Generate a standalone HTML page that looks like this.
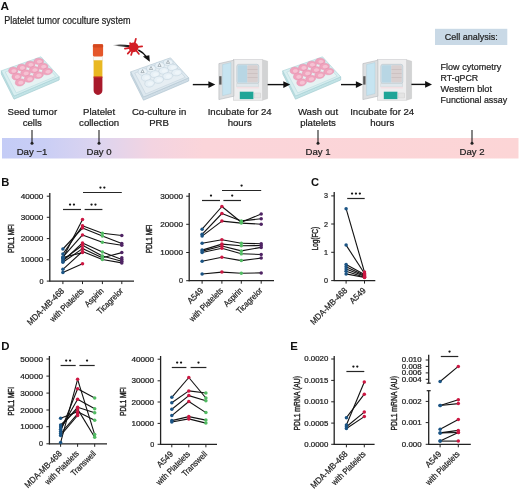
<!DOCTYPE html>
<html><head><meta charset="utf-8"><style>
html,body{margin:0;padding:0;background:#fff;}
svg{display:block;font-family:"Liberation Sans", sans-serif;will-change:transform;}
</style></head><body>
<svg width="520" height="489" viewBox="0 0 520 489">
<rect width="520" height="489" fill="#fff"/>
<polygon points="1.30,70.80 14.00,96.00 59.20,76.80 59.20,80.00 14.00,99.20 1.30,74.00" fill="#c2e3e6" stroke="#9cc8cd" stroke-width="0.6"/>
<polygon points="1.30,70.80 41.00,56.80 59.20,76.80 14.00,96.00" fill="#d8eef0" stroke="#a7d1d6" stroke-width="0.6"/>
<polygon points="5.26,72.06 40.63,59.32 55.69,76.34 16.25,92.92" fill="#e6f2f3" stroke="#a7d1d6" stroke-width="0.4"/>
<polygon points="17.44,69.10 17.85,70.15 17.79,71.26 17.27,72.31 16.34,73.22 15.10,73.87 13.67,74.21 12.20,74.20 10.84,73.83 9.72,73.14 8.95,72.19 8.59,71.10 8.68,69.97 9.20,68.91 10.10,68.03 11.30,67.42 12.68,67.12 14.12,67.16 15.48,67.53 16.63,68.20" fill="#f0a3bd" stroke="#e08aa8" stroke-width="0.4"/>
<polygon points="16.11,70.16 16.32,70.71 16.28,71.29 16.00,71.84 15.52,72.31 14.87,72.65 14.13,72.82 13.36,72.82 12.65,72.63 12.06,72.27 11.65,71.79 11.46,71.23 11.51,70.64 11.78,70.10 12.26,69.63 12.89,69.31 13.63,69.14 14.38,69.16 15.10,69.34 15.69,69.69" fill="#f5c2d3" stroke="none" stroke-width="0.5"/>
<polygon points="25.94,66.01 26.39,67.01 26.38,68.08 25.89,69.10 24.99,69.98 23.75,70.63 22.31,70.98 20.82,70.99 19.43,70.65 18.27,70.00 17.44,69.10 17.04,68.05 17.08,66.96 17.57,65.94 18.45,65.08 19.64,64.47 21.03,64.17 22.49,64.19 23.89,64.53 25.08,65.15" fill="#f0a3bd" stroke="#e08aa8" stroke-width="0.4"/>
<polygon points="24.64,67.05 24.86,67.57 24.85,68.13 24.59,68.66 24.12,69.12 23.47,69.45 22.73,69.63 21.95,69.64 21.22,69.47 20.61,69.13 20.17,68.68 19.96,68.14 19.98,67.58 20.24,67.04 20.70,66.59 21.33,66.27 22.07,66.10 22.84,66.10 23.57,66.27 24.19,66.60" fill="#f5c2d3" stroke="none" stroke-width="0.5"/>
<polygon points="34.44,62.91 34.94,63.87 34.97,64.90 34.52,65.89 33.63,66.75 32.40,67.39 30.96,67.75 29.45,67.78 28.02,67.47 26.81,66.86 25.94,66.01 25.49,65.00 25.49,63.95 25.94,62.96 26.80,62.13 27.98,61.53 29.38,61.22 30.86,61.21 32.29,61.52 33.53,62.11" fill="#f0a3bd" stroke="#e08aa8" stroke-width="0.4"/>
<polygon points="33.16,63.93 33.41,64.43 33.42,64.97 33.18,65.48 32.72,65.93 32.08,66.26 31.32,66.45 30.54,66.46 29.79,66.31 29.15,66.00 28.69,65.56 28.45,65.05 28.45,64.51 28.69,63.99 29.15,63.55 29.78,63.23 30.52,63.06 31.30,63.05 32.05,63.20 32.69,63.51" fill="#f5c2d3" stroke="none" stroke-width="0.5"/>
<polygon points="42.94,59.82 43.49,60.74 43.56,61.72 43.14,62.68 42.28,63.52 41.06,64.15 39.61,64.51 38.07,64.56 36.61,64.29 35.36,63.72 34.44,62.91 33.94,61.96 33.90,60.95 34.32,59.99 35.15,59.18 36.32,58.58 37.73,58.26 39.24,58.24 40.70,58.51 41.98,59.06" fill="#f0a3bd" stroke="#e08aa8" stroke-width="0.4"/>
<polygon points="41.68,60.82 41.96,61.29 41.99,61.81 41.77,62.31 41.32,62.74 40.68,63.07 39.92,63.26 39.12,63.29 38.36,63.15 37.70,62.86 37.22,62.45 36.95,61.96 36.93,61.44 37.15,60.94 37.59,60.51 38.22,60.19 38.96,60.02 39.75,60.00 40.52,60.13 41.18,60.42" fill="#f5c2d3" stroke="none" stroke-width="0.5"/>
<polygon points="21.03,74.82 21.43,75.88 21.35,77.00 20.80,78.09 19.83,79.03 18.54,79.73 17.07,80.11 15.56,80.13 14.17,79.79 13.03,79.12 12.25,78.18 11.90,77.08 12.01,75.93 12.56,74.84 13.50,73.93 14.74,73.27 16.17,72.94 17.65,72.94 19.04,73.28 20.21,73.93" fill="#f0a3bd" stroke="#e08aa8" stroke-width="0.4"/>
<polygon points="19.65,75.93 19.85,76.49 19.80,77.07 19.51,77.64 19.00,78.13 18.33,78.49 17.57,78.69 16.78,78.70 16.05,78.53 15.45,78.18 15.04,77.70 14.85,77.14 14.91,76.54 15.20,75.98 15.70,75.50 16.36,75.15 17.11,74.96 17.89,74.96 18.62,75.13 19.23,75.47" fill="#f5c2d3" stroke="none" stroke-width="0.5"/>
<polygon points="29.82,71.46 30.26,72.47 30.22,73.56 29.71,74.61 28.76,75.53 27.48,76.22 26.00,76.61 24.47,76.65 23.04,76.35 21.86,75.71 21.03,74.82 20.64,73.77 20.70,72.66 21.22,71.60 22.14,70.71 23.37,70.06 24.80,69.72 26.31,69.70 27.73,70.01 28.94,70.61" fill="#f0a3bd" stroke="#e08aa8" stroke-width="0.4"/>
<polygon points="28.46,72.55 28.68,73.08 28.65,73.65 28.38,74.19 27.89,74.67 27.22,75.03 26.45,75.23 25.65,75.26 24.90,75.10 24.28,74.78 23.84,74.32 23.63,73.78 23.66,73.21 23.94,72.66 24.43,72.19 25.08,71.84 25.84,71.65 26.63,71.64 27.38,71.79 28.01,72.11" fill="#f5c2d3" stroke="none" stroke-width="0.5"/>
<polygon points="38.60,68.10 39.09,69.07 39.10,70.11 38.61,71.13 37.69,72.03 36.42,72.71 34.93,73.11 33.38,73.18 31.92,72.90 30.69,72.31 29.82,71.46 29.37,70.45 29.39,69.38 29.87,68.36 30.77,67.49 32.00,66.85 33.44,66.49 34.96,66.46 36.42,66.73 37.68,67.30" fill="#f0a3bd" stroke="#e08aa8" stroke-width="0.4"/>
<polygon points="37.26,69.17 37.51,69.67 37.51,70.22 37.25,70.75 36.77,71.22 36.11,71.57 35.33,71.78 34.52,71.81 33.75,71.67 33.11,71.37 32.65,70.94 32.41,70.42 32.42,69.87 32.68,69.34 33.15,68.88 33.80,68.54 34.57,68.34 35.37,68.32 36.13,68.46 36.79,68.75" fill="#f5c2d3" stroke="none" stroke-width="0.5"/>
<polygon points="47.38,64.74 47.92,65.66 47.97,66.66 47.52,67.65 46.62,68.53 45.36,69.20 43.86,69.61 42.29,69.70 40.79,69.45 39.52,68.90 38.60,68.10 38.10,67.14 38.08,66.11 38.53,65.12 39.40,64.27 40.62,63.64 42.07,63.27 43.62,63.22 45.11,63.46 46.41,63.98" fill="#f0a3bd" stroke="#e08aa8" stroke-width="0.4"/>
<polygon points="46.06,65.79 46.34,66.27 46.36,66.79 46.12,67.31 45.65,67.76 44.99,68.11 44.21,68.32 43.39,68.37 42.61,68.24 41.94,67.97 41.45,67.56 41.19,67.06 41.18,66.53 41.42,66.02 41.88,65.57 42.53,65.23 43.29,65.03 44.11,65.00 44.89,65.12 45.57,65.39" fill="#f5c2d3" stroke="none" stroke-width="0.5"/>
<polygon points="24.62,80.54 25.01,81.61 24.91,82.75 24.33,83.87 23.32,84.84 21.99,85.58 20.48,86.01 18.93,86.07 17.51,85.76 16.35,85.10 15.56,84.17 15.22,83.06 15.35,81.89 15.93,80.78 16.91,79.83 18.19,79.13 19.66,78.75 21.18,78.72 22.61,79.03 23.79,79.66" fill="#f0a3bd" stroke="#e08aa8" stroke-width="0.4"/>
<polygon points="23.19,81.71 23.38,82.26 23.32,82.86 23.02,83.44 22.49,83.95 21.80,84.33 21.01,84.55 20.20,84.58 19.45,84.43 18.84,84.09 18.43,83.62 18.24,83.05 18.31,82.44 18.62,81.86 19.14,81.36 19.82,80.99 20.60,80.78 21.40,80.76 22.14,80.92 22.76,81.24" fill="#f5c2d3" stroke="none" stroke-width="0.5"/>
<polygon points="33.69,76.92 34.13,77.93 34.07,79.04 33.52,80.12 32.54,81.08 31.21,81.81 29.69,82.24 28.12,82.32 26.66,82.04 25.46,81.43 24.62,80.54 24.23,79.48 24.32,78.35 24.87,77.27 25.82,76.34 27.10,75.65 28.58,75.26 30.12,75.21 31.58,75.49 32.81,76.07" fill="#f0a3bd" stroke="#e08aa8" stroke-width="0.4"/>
<polygon points="32.27,78.06 32.49,78.59 32.46,79.16 32.17,79.73 31.65,80.23 30.96,80.60 30.17,80.83 29.35,80.87 28.59,80.73 27.96,80.42 27.51,79.97 27.31,79.42 27.35,78.84 27.64,78.28 28.15,77.79 28.82,77.42 29.61,77.21 30.42,77.17 31.18,77.31 31.82,77.62" fill="#f5c2d3" stroke="none" stroke-width="0.5"/>
<polygon points="42.75,73.29 43.24,74.26 43.23,75.32 42.71,76.37 41.75,77.31 40.43,78.03 38.90,78.47 37.31,78.57 35.82,78.33 34.57,77.75 33.69,76.92 33.25,75.90 33.29,74.81 33.81,73.76 34.74,72.85 36.01,72.17 37.50,71.77 39.06,71.70 40.55,71.95 41.83,72.49" fill="#f0a3bd" stroke="#e08aa8" stroke-width="0.4"/>
<polygon points="41.36,74.41 41.61,74.92 41.59,75.47 41.32,76.02 40.82,76.50 40.13,76.88 39.33,77.11 38.50,77.16 37.72,77.04 37.07,76.75 36.60,76.32 36.37,75.80 36.39,75.23 36.66,74.69 37.16,74.21 37.83,73.85 38.62,73.63 39.44,73.58 40.22,73.71 40.88,73.99" fill="#f5c2d3" stroke="none" stroke-width="0.5"/>
<polygon points="51.82,69.66 52.35,70.59 52.38,71.61 51.90,72.62 50.96,73.54 49.65,74.26 48.11,74.70 46.50,74.83 44.97,74.61 43.68,74.08 42.75,73.29 42.27,72.32 42.26,71.27 42.74,70.25 43.66,69.36 44.92,68.69 46.41,68.29 48.00,68.19 49.52,68.40 50.84,68.91" fill="#f0a3bd" stroke="#e08aa8" stroke-width="0.4"/>
<polygon points="50.45,70.76 50.72,71.24 50.73,71.78 50.48,72.31 49.98,72.78 49.30,73.15 48.50,73.38 47.66,73.45 46.86,73.34 46.18,73.07 45.69,72.67 45.43,72.17 45.43,71.63 45.68,71.10 46.17,70.63 46.84,70.27 47.63,70.05 48.46,69.99 49.26,70.10 49.95,70.36" fill="#f5c2d3" stroke="none" stroke-width="0.5"/>
<rect x="93.6" y="55" width="8.8" height="6" fill="#fbfbf6" stroke="#d7d2c8" stroke-width="0.4"/>
<rect x="93.6" y="60.3" width="8.8" height="17" fill="#e9b822"/>
<path d="M93.6,77 H102.4 V90.5 A4.4,4.4 0 0 1 93.6,90.5 Z" fill="#a8192b"/>
<rect x="93.6" y="76.4" width="8.8" height="1.2" fill="#c9362a"/>
<rect x="92.9" y="44.2" width="10.2" height="12.2" rx="1.3" fill="#e5572a"/>
<rect x="92.9" y="44.2" width="10.2" height="3.2" rx="1.2" fill="#d4481f"/>
<defs><linearGradient id="tl" x1="0" x2="1"><stop offset="0" stop-color="#222" stop-opacity="0"/><stop offset="0.35" stop-color="#222" stop-opacity="0.8"/><stop offset="1" stop-color="#111"/></linearGradient></defs>
<path d="M112.5,44.9 Q122,44.2 130,45.2 L130,47.6 Q122,46.3 112.5,45.5 Z" fill="url(#tl)"/>
<line x1="133.6" y1="47.3" x2="135.88" y2="38.80" stroke="#d31d25" stroke-width="1.7" stroke-linecap="round"/>
<line x1="133.6" y1="47.3" x2="142.15" y2="46.40" stroke="#d31d25" stroke-width="1.7" stroke-linecap="round"/>
<line x1="133.6" y1="47.3" x2="138.95" y2="53.91" stroke="#d31d25" stroke-width="1.7" stroke-linecap="round"/>
<line x1="133.6" y1="47.3" x2="131.13" y2="54.91" stroke="#d31d25" stroke-width="1.7" stroke-linecap="round"/>
<line x1="133.6" y1="47.3" x2="127.73" y2="53.59" stroke="#d31d25" stroke-width="1.7" stroke-linecap="round"/>
<line x1="133.6" y1="47.3" x2="124.91" y2="48.68" stroke="#d31d25" stroke-width="1.7" stroke-linecap="round"/>
<line x1="133.6" y1="47.3" x2="130.06" y2="43.09" stroke="#d31d25" stroke-width="1.7" stroke-linecap="round"/>
<circle cx="133.6" cy="47.3" r="4.9" fill="#d31d25"/>
<path d="M138.3,50.0 Q143.5,52.5 146.5,57" fill="none" stroke="#111" stroke-width="1.4"/>
<path d="M149.8,61.8 L142.9,56.6 L149.3,55.2 Z" fill="#111"/>
<polygon points="130.80,71.80 143.50,97.00 188.70,77.80 188.70,81.00 143.50,100.20 130.80,75.00" fill="#cfdde6" stroke="#aabfcc" stroke-width="0.6"/>
<polygon points="130.80,71.80 170.50,57.80 188.70,77.80 143.50,97.00" fill="#dde8ef" stroke="#b3c6d2" stroke-width="0.6"/>
<polygon points="134.76,73.06 170.13,60.32 185.19,77.34 145.75,93.92" fill="#e6eef3" stroke="#b3c6d2" stroke-width="0.4"/>
<polygon points="146.94,70.10 147.35,71.15 147.29,72.26 146.77,73.31 145.84,74.22 144.60,74.87 143.17,75.21 141.70,75.20 140.34,74.83 139.22,74.14 138.45,73.19 138.09,72.10 138.18,70.97 138.70,69.91 139.60,69.03 140.80,68.42 142.18,68.12 143.62,68.16 144.98,68.53 146.13,69.20" fill="#e7f0f6" stroke="#b3c7d4" stroke-width="0.4"/>
<polygon points="145.61,71.16 145.82,71.71 145.78,72.29 145.50,72.84 145.02,73.31 144.37,73.65 143.63,73.82 142.86,73.82 142.15,73.63 141.56,73.27 141.15,72.79 140.96,72.23 141.01,71.64 141.28,71.10 141.76,70.63 142.39,70.31 143.13,70.14 143.88,70.16 144.60,70.34 145.19,70.69" fill="#eef5f9" stroke="none" stroke-width="0.5"/>
<polygon points="155.44,67.01 155.89,68.01 155.88,69.08 155.39,70.10 154.49,70.98 153.25,71.63 151.81,71.98 150.32,71.99 148.93,71.65 147.77,71.00 146.94,70.10 146.54,69.05 146.58,67.96 147.07,66.94 147.95,66.08 149.14,65.47 150.53,65.17 151.99,65.19 153.39,65.53 154.58,66.15" fill="#e7f0f6" stroke="#b3c7d4" stroke-width="0.4"/>
<polygon points="154.14,68.05 154.36,68.57 154.35,69.13 154.09,69.66 153.62,70.12 152.97,70.45 152.23,70.63 151.45,70.64 150.72,70.47 150.11,70.13 149.67,69.68 149.46,69.14 149.48,68.58 149.74,68.04 150.20,67.59 150.83,67.27 151.57,67.10 152.34,67.10 153.07,67.27 153.69,67.60" fill="#eef5f9" stroke="none" stroke-width="0.5"/>
<polygon points="163.94,63.91 164.44,64.87 164.47,65.90 164.02,66.89 163.13,67.75 161.90,68.39 160.46,68.75 158.95,68.78 157.52,68.47 156.31,67.86 155.44,67.01 154.99,66.00 154.99,64.95 155.44,63.96 156.30,63.13 157.48,62.53 158.88,62.22 160.36,62.21 161.79,62.52 163.03,63.11" fill="#e7f0f6" stroke="#b3c7d4" stroke-width="0.4"/>
<polygon points="162.66,64.93 162.91,65.43 162.92,65.97 162.68,66.48 162.22,66.93 161.58,67.26 160.82,67.45 160.04,67.46 159.29,67.31 158.65,67.00 158.19,66.56 157.95,66.05 157.95,65.51 158.19,64.99 158.65,64.55 159.28,64.23 160.02,64.06 160.80,64.05 161.55,64.20 162.19,64.51" fill="#eef5f9" stroke="none" stroke-width="0.5"/>
<polygon points="172.44,60.82 172.99,61.74 173.06,62.72 172.64,63.68 171.78,64.52 170.56,65.15 169.11,65.51 167.57,65.56 166.11,65.29 164.86,64.72 163.94,63.91 163.44,62.96 163.40,61.95 163.82,60.99 164.65,60.18 165.82,59.58 167.23,59.26 168.74,59.24 170.20,59.51 171.48,60.06" fill="#e7f0f6" stroke="#b3c7d4" stroke-width="0.4"/>
<polygon points="171.18,61.82 171.46,62.29 171.49,62.81 171.27,63.31 170.82,63.74 170.18,64.07 169.42,64.26 168.62,64.29 167.86,64.15 167.20,63.86 166.72,63.45 166.45,62.96 166.43,62.44 166.65,61.94 167.09,61.51 167.72,61.19 168.46,61.02 169.25,61.00 170.02,61.13 170.68,61.42" fill="#eef5f9" stroke="none" stroke-width="0.5"/>
<polygon points="150.53,75.82 150.93,76.88 150.85,78.00 150.30,79.09 149.33,80.03 148.04,80.73 146.57,81.11 145.06,81.13 143.67,80.79 142.53,80.12 141.75,79.18 141.40,78.08 141.51,76.93 142.06,75.84 143.00,74.93 144.24,74.27 145.67,73.94 147.15,73.94 148.54,74.28 149.71,74.93" fill="#e7f0f6" stroke="#b3c7d4" stroke-width="0.4"/>
<polygon points="149.15,76.93 149.35,77.49 149.30,78.07 149.01,78.64 148.50,79.13 147.83,79.49 147.07,79.69 146.28,79.70 145.55,79.53 144.95,79.18 144.54,78.70 144.35,78.14 144.41,77.54 144.70,76.98 145.20,76.50 145.86,76.15 146.61,75.96 147.39,75.96 148.12,76.13 148.73,76.47" fill="#eef5f9" stroke="none" stroke-width="0.5"/>
<polygon points="159.32,72.46 159.76,73.47 159.72,74.56 159.21,75.61 158.26,76.53 156.98,77.22 155.50,77.61 153.97,77.65 152.54,77.35 151.36,76.71 150.53,75.82 150.14,74.77 150.20,73.66 150.72,72.60 151.64,71.71 152.87,71.06 154.30,70.72 155.81,70.70 157.23,71.01 158.44,71.61" fill="#e7f0f6" stroke="#b3c7d4" stroke-width="0.4"/>
<polygon points="157.96,73.55 158.18,74.08 158.15,74.65 157.88,75.19 157.39,75.67 156.72,76.03 155.95,76.23 155.15,76.26 154.40,76.10 153.78,75.78 153.34,75.32 153.13,74.78 153.16,74.21 153.44,73.66 153.93,73.19 154.58,72.84 155.34,72.65 156.13,72.64 156.88,72.79 157.51,73.11" fill="#eef5f9" stroke="none" stroke-width="0.5"/>
<polygon points="168.10,69.10 168.59,70.07 168.60,71.11 168.11,72.13 167.19,73.03 165.92,73.71 164.43,74.11 162.88,74.18 161.42,73.90 160.19,73.31 159.32,72.46 158.87,71.45 158.89,70.38 159.37,69.36 160.27,68.49 161.50,67.85 162.94,67.49 164.46,67.46 165.92,67.73 167.18,68.30" fill="#e7f0f6" stroke="#b3c7d4" stroke-width="0.4"/>
<polygon points="166.76,70.17 167.01,70.67 167.01,71.22 166.75,71.75 166.27,72.22 165.61,72.57 164.83,72.78 164.02,72.81 163.25,72.67 162.61,72.37 162.15,71.94 161.91,71.42 161.92,70.87 162.18,70.34 162.65,69.88 163.30,69.54 164.07,69.34 164.87,69.32 165.63,69.46 166.29,69.75" fill="#eef5f9" stroke="none" stroke-width="0.5"/>
<polygon points="176.88,65.74 177.42,66.66 177.47,67.66 177.02,68.65 176.12,69.53 174.86,70.20 173.36,70.61 171.79,70.70 170.29,70.45 169.02,69.90 168.10,69.10 167.60,68.14 167.58,67.11 168.03,66.12 168.90,65.27 170.12,64.64 171.57,64.27 173.12,64.22 174.61,64.46 175.91,64.98" fill="#e7f0f6" stroke="#b3c7d4" stroke-width="0.4"/>
<polygon points="175.56,66.79 175.84,67.27 175.86,67.79 175.62,68.31 175.15,68.76 174.49,69.11 173.71,69.32 172.89,69.37 172.11,69.24 171.44,68.97 170.95,68.56 170.69,68.06 170.68,67.53 170.92,67.02 171.38,66.57 172.03,66.23 172.79,66.03 173.61,66.00 174.39,66.12 175.07,66.39" fill="#eef5f9" stroke="none" stroke-width="0.5"/>
<polygon points="154.12,81.54 154.51,82.61 154.41,83.75 153.83,84.87 152.82,85.84 151.49,86.58 149.98,87.01 148.43,87.07 147.01,86.76 145.85,86.10 145.06,85.17 144.72,84.06 144.85,82.89 145.43,81.78 146.41,80.83 147.69,80.13 149.16,79.75 150.68,79.72 152.11,80.03 153.29,80.66" fill="#e7f0f6" stroke="#b3c7d4" stroke-width="0.4"/>
<polygon points="152.69,82.71 152.88,83.26 152.82,83.86 152.52,84.44 151.99,84.95 151.30,85.33 150.51,85.55 149.70,85.58 148.95,85.43 148.34,85.09 147.93,84.62 147.74,84.05 147.81,83.44 148.12,82.86 148.64,82.36 149.32,81.99 150.10,81.78 150.90,81.76 151.64,81.92 152.26,82.24" fill="#eef5f9" stroke="none" stroke-width="0.5"/>
<polygon points="163.19,77.92 163.63,78.93 163.57,80.04 163.02,81.12 162.04,82.08 160.71,82.81 159.19,83.24 157.62,83.32 156.16,83.04 154.96,82.43 154.12,81.54 153.73,80.48 153.82,79.35 154.37,78.27 155.32,77.34 156.60,76.65 158.08,76.26 159.62,76.21 161.08,76.49 162.31,77.07" fill="#e7f0f6" stroke="#b3c7d4" stroke-width="0.4"/>
<polygon points="161.77,79.06 161.99,79.59 161.96,80.16 161.67,80.73 161.15,81.23 160.46,81.60 159.67,81.83 158.85,81.87 158.09,81.73 157.46,81.42 157.01,80.97 156.81,80.42 156.85,79.84 157.14,79.28 157.65,78.79 158.32,78.42 159.11,78.21 159.92,78.17 160.68,78.31 161.32,78.62" fill="#eef5f9" stroke="none" stroke-width="0.5"/>
<polygon points="172.25,74.29 172.74,75.26 172.73,76.32 172.21,77.37 171.25,78.31 169.93,79.03 168.40,79.47 166.81,79.57 165.32,79.33 164.07,78.75 163.19,77.92 162.75,76.90 162.79,75.81 163.31,74.76 164.24,73.85 165.51,73.17 167.00,72.77 168.56,72.70 170.05,72.95 171.33,73.49" fill="#e7f0f6" stroke="#b3c7d4" stroke-width="0.4"/>
<polygon points="170.86,75.41 171.11,75.92 171.09,76.47 170.82,77.02 170.32,77.50 169.63,77.88 168.83,78.11 168.00,78.16 167.22,78.04 166.57,77.75 166.10,77.32 165.87,76.80 165.89,76.23 166.16,75.69 166.66,75.21 167.33,74.85 168.12,74.63 168.94,74.58 169.72,74.71 170.38,74.99" fill="#eef5f9" stroke="none" stroke-width="0.5"/>
<polygon points="181.32,70.66 181.85,71.59 181.88,72.61 181.40,73.62 180.46,74.54 179.15,75.26 177.61,75.70 176.00,75.83 174.47,75.61 173.18,75.08 172.25,74.29 171.77,73.32 171.76,72.27 172.24,71.25 173.16,70.36 174.42,69.69 175.91,69.29 177.50,69.19 179.02,69.40 180.34,69.91" fill="#e7f0f6" stroke="#b3c7d4" stroke-width="0.4"/>
<polygon points="179.95,71.76 180.22,72.24 180.23,72.78 179.98,73.31 179.48,73.78 178.80,74.15 178.00,74.38 177.16,74.45 176.36,74.34 175.68,74.07 175.19,73.67 174.93,73.17 174.93,72.63 175.18,72.10 175.67,71.63 176.34,71.27 177.13,71.05 177.96,70.99 178.76,71.10 179.45,71.36" fill="#eef5f9" stroke="none" stroke-width="0.5"/>
<path d="M140.95,72.61 L142.55,69.61 L144.15,72.61 Z" fill="#f4f8fa" stroke="#6b7a85" stroke-width="0.5"/>
<path d="M149.44,69.53 L151.04,66.53 L152.64,69.53 Z" fill="#f4f8fa" stroke="#6b7a85" stroke-width="0.5"/>
<path d="M157.93,66.44 L159.53,63.44 L161.13,66.44 Z" fill="#f4f8fa" stroke="#6b7a85" stroke-width="0.5"/>
<path d="M166.42,63.36 L168.02,60.36 L169.62,63.36 Z" fill="#f4f8fa" stroke="#6b7a85" stroke-width="0.5"/>
<g transform="translate(0,0)">
<polygon points="262.5,59.8 267.6,61.2 267.6,98.6 262.5,100.2" fill="#d2d3d4" stroke="#bdbdbd" stroke-width="0.4"/>
<rect x="233.6" y="59.6" width="29" height="40.6" fill="#eeeeef" stroke="#cbcbcc" stroke-width="0.6"/>
<rect x="236.8" y="64.3" width="22" height="19.4" rx="2" fill="#d3e1e8" stroke="#b7c3c9" stroke-width="0.6"/>
<rect x="237.8" y="65.2" width="9.5" height="17.4" rx="1.2" fill="#b8d6e4"/>
<rect x="247.3" y="65.2" width="10.5" height="17.4" rx="1.2" fill="#d9d0d0"/>
<line x1="247.5" y1="69.5" x2="257.6" y2="69.5" stroke="#c4b8b8" stroke-width="0.6"/>
<line x1="247.5" y1="73.5" x2="257.6" y2="73.5" stroke="#c4b8b8" stroke-width="0.6"/>
<line x1="247.5" y1="77.5" x2="257.6" y2="77.5" stroke="#c4b8b8" stroke-width="0.6"/>
<rect x="236.8" y="83.7" width="22" height="3.2" fill="#dfe7ec" stroke="#c8cfd3" stroke-width="0.4"/>
<rect x="236.8" y="86.9" width="22" height="1.6" fill="#f3dfe3"/>
<rect x="239.8" y="91.7" width="13.6" height="7.4" fill="#1fa597"/>
<rect x="254.2" y="93" width="6.5" height="5" fill="#e4e4e4" stroke="#cacaca" stroke-width="0.4"/>
<polygon points="218.9,63.6 233.9,60.2 233.9,96.2 218.9,99.6" fill="#dcdee0" stroke="#b4b7ba" stroke-width="0.6"/>
<polygon points="222.6,64.6 231,62.6 231,93.6 222.6,95.6" fill="#c6e4f1" stroke="#a9c9d6" stroke-width="0.4"/>
<rect x="219.2" y="76.2" width="2.3" height="8.4" fill="#5a5a5a"/>
</g>
<polygon points="282.80,70.80 295.50,96.00 340.70,76.80 340.70,80.00 295.50,99.20 282.80,74.00" fill="#c2e3e6" stroke="#9cc8cd" stroke-width="0.6"/>
<polygon points="282.80,70.80 322.50,56.80 340.70,76.80 295.50,96.00" fill="#d8eef0" stroke="#a7d1d6" stroke-width="0.6"/>
<polygon points="286.76,72.06 322.13,59.32 337.19,76.34 297.75,92.92" fill="#e6f2f3" stroke="#a7d1d6" stroke-width="0.4"/>
<polygon points="298.94,69.10 299.35,70.15 299.29,71.26 298.77,72.31 297.84,73.22 296.60,73.87 295.17,74.21 293.70,74.20 292.34,73.83 291.22,73.14 290.45,72.19 290.09,71.10 290.18,69.97 290.70,68.91 291.60,68.03 292.80,67.42 294.18,67.12 295.62,67.16 296.98,67.53 298.13,68.20" fill="#f0a3bd" stroke="#e08aa8" stroke-width="0.4"/>
<polygon points="297.61,70.16 297.82,70.71 297.78,71.29 297.50,71.84 297.02,72.31 296.37,72.65 295.63,72.82 294.86,72.82 294.15,72.63 293.56,72.27 293.15,71.79 292.96,71.23 293.01,70.64 293.28,70.10 293.76,69.63 294.39,69.31 295.13,69.14 295.88,69.16 296.60,69.34 297.19,69.69" fill="#f5c2d3" stroke="none" stroke-width="0.5"/>
<polygon points="307.44,66.01 307.89,67.01 307.88,68.08 307.39,69.10 306.49,69.98 305.25,70.63 303.81,70.98 302.32,70.99 300.93,70.65 299.77,70.00 298.94,69.10 298.54,68.05 298.58,66.96 299.07,65.94 299.95,65.08 301.14,64.47 302.53,64.17 303.99,64.19 305.39,64.53 306.58,65.15" fill="#f0a3bd" stroke="#e08aa8" stroke-width="0.4"/>
<polygon points="306.14,67.05 306.36,67.57 306.35,68.13 306.09,68.66 305.62,69.12 304.97,69.45 304.23,69.63 303.45,69.64 302.72,69.47 302.11,69.13 301.67,68.68 301.46,68.14 301.48,67.58 301.74,67.04 302.20,66.59 302.83,66.27 303.57,66.10 304.34,66.10 305.07,66.27 305.69,66.60" fill="#f5c2d3" stroke="none" stroke-width="0.5"/>
<polygon points="315.94,62.91 316.44,63.87 316.47,64.90 316.02,65.89 315.13,66.75 313.90,67.39 312.46,67.75 310.95,67.78 309.52,67.47 308.31,66.86 307.44,66.01 306.99,65.00 306.99,63.95 307.44,62.96 308.30,62.13 309.48,61.53 310.88,61.22 312.36,61.21 313.79,61.52 315.03,62.11" fill="#f0a3bd" stroke="#e08aa8" stroke-width="0.4"/>
<polygon points="314.66,63.93 314.91,64.43 314.92,64.97 314.68,65.48 314.22,65.93 313.58,66.26 312.82,66.45 312.04,66.46 311.29,66.31 310.65,66.00 310.19,65.56 309.95,65.05 309.95,64.51 310.19,63.99 310.65,63.55 311.28,63.23 312.02,63.06 312.80,63.05 313.55,63.20 314.19,63.51" fill="#f5c2d3" stroke="none" stroke-width="0.5"/>
<polygon points="324.44,59.82 324.99,60.74 325.06,61.72 324.64,62.68 323.78,63.52 322.56,64.15 321.11,64.51 319.57,64.56 318.11,64.29 316.86,63.72 315.94,62.91 315.44,61.96 315.40,60.95 315.82,59.99 316.65,59.18 317.82,58.58 319.23,58.26 320.74,58.24 322.20,58.51 323.48,59.06" fill="#f0a3bd" stroke="#e08aa8" stroke-width="0.4"/>
<polygon points="323.18,60.82 323.46,61.29 323.49,61.81 323.27,62.31 322.82,62.74 322.18,63.07 321.42,63.26 320.62,63.29 319.86,63.15 319.20,62.86 318.72,62.45 318.45,61.96 318.43,61.44 318.65,60.94 319.09,60.51 319.72,60.19 320.46,60.02 321.25,60.00 322.02,60.13 322.68,60.42" fill="#f5c2d3" stroke="none" stroke-width="0.5"/>
<polygon points="302.53,74.82 302.93,75.88 302.85,77.00 302.30,78.09 301.33,79.03 300.04,79.73 298.57,80.11 297.06,80.13 295.67,79.79 294.53,79.12 293.75,78.18 293.40,77.08 293.51,75.93 294.06,74.84 295.00,73.93 296.24,73.27 297.67,72.94 299.15,72.94 300.54,73.28 301.71,73.93" fill="#f0a3bd" stroke="#e08aa8" stroke-width="0.4"/>
<polygon points="301.15,75.93 301.35,76.49 301.30,77.07 301.01,77.64 300.50,78.13 299.83,78.49 299.07,78.69 298.28,78.70 297.55,78.53 296.95,78.18 296.54,77.70 296.35,77.14 296.41,76.54 296.70,75.98 297.20,75.50 297.86,75.15 298.61,74.96 299.39,74.96 300.12,75.13 300.73,75.47" fill="#f5c2d3" stroke="none" stroke-width="0.5"/>
<polygon points="311.32,71.46 311.76,72.47 311.72,73.56 311.21,74.61 310.26,75.53 308.98,76.22 307.50,76.61 305.97,76.65 304.54,76.35 303.36,75.71 302.53,74.82 302.14,73.77 302.20,72.66 302.72,71.60 303.64,70.71 304.87,70.06 306.30,69.72 307.81,69.70 309.23,70.01 310.44,70.61" fill="#f0a3bd" stroke="#e08aa8" stroke-width="0.4"/>
<polygon points="309.96,72.55 310.18,73.08 310.15,73.65 309.88,74.19 309.39,74.67 308.72,75.03 307.95,75.23 307.15,75.26 306.40,75.10 305.78,74.78 305.34,74.32 305.13,73.78 305.16,73.21 305.44,72.66 305.93,72.19 306.58,71.84 307.34,71.65 308.13,71.64 308.88,71.79 309.51,72.11" fill="#f5c2d3" stroke="none" stroke-width="0.5"/>
<polygon points="320.10,68.10 320.59,69.07 320.60,70.11 320.11,71.13 319.19,72.03 317.92,72.71 316.43,73.11 314.88,73.18 313.42,72.90 312.19,72.31 311.32,71.46 310.87,70.45 310.89,69.38 311.37,68.36 312.27,67.49 313.50,66.85 314.94,66.49 316.46,66.46 317.92,66.73 319.18,67.30" fill="#f0a3bd" stroke="#e08aa8" stroke-width="0.4"/>
<polygon points="318.76,69.17 319.01,69.67 319.01,70.22 318.75,70.75 318.27,71.22 317.61,71.57 316.83,71.78 316.02,71.81 315.25,71.67 314.61,71.37 314.15,70.94 313.91,70.42 313.92,69.87 314.18,69.34 314.65,68.88 315.30,68.54 316.07,68.34 316.87,68.32 317.63,68.46 318.29,68.75" fill="#f5c2d3" stroke="none" stroke-width="0.5"/>
<polygon points="328.88,64.74 329.42,65.66 329.47,66.66 329.02,67.65 328.12,68.53 326.86,69.20 325.36,69.61 323.79,69.70 322.29,69.45 321.02,68.90 320.10,68.10 319.60,67.14 319.58,66.11 320.03,65.12 320.90,64.27 322.12,63.64 323.57,63.27 325.12,63.22 326.61,63.46 327.91,63.98" fill="#f0a3bd" stroke="#e08aa8" stroke-width="0.4"/>
<polygon points="327.56,65.79 327.84,66.27 327.86,66.79 327.62,67.31 327.15,67.76 326.49,68.11 325.71,68.32 324.89,68.37 324.11,68.24 323.44,67.97 322.95,67.56 322.69,67.06 322.68,66.53 322.92,66.02 323.38,65.57 324.03,65.23 324.79,65.03 325.61,65.00 326.39,65.12 327.07,65.39" fill="#f5c2d3" stroke="none" stroke-width="0.5"/>
<polygon points="306.12,80.54 306.51,81.61 306.41,82.75 305.83,83.87 304.82,84.84 303.49,85.58 301.98,86.01 300.43,86.07 299.01,85.76 297.85,85.10 297.06,84.17 296.72,83.06 296.85,81.89 297.43,80.78 298.41,79.83 299.69,79.13 301.16,78.75 302.68,78.72 304.11,79.03 305.29,79.66" fill="#f0a3bd" stroke="#e08aa8" stroke-width="0.4"/>
<polygon points="304.69,81.71 304.88,82.26 304.82,82.86 304.52,83.44 303.99,83.95 303.30,84.33 302.51,84.55 301.70,84.58 300.95,84.43 300.34,84.09 299.93,83.62 299.74,83.05 299.81,82.44 300.12,81.86 300.64,81.36 301.32,80.99 302.10,80.78 302.90,80.76 303.64,80.92 304.26,81.24" fill="#f5c2d3" stroke="none" stroke-width="0.5"/>
<polygon points="315.19,76.92 315.63,77.93 315.57,79.04 315.02,80.12 314.04,81.08 312.71,81.81 311.19,82.24 309.62,82.32 308.16,82.04 306.96,81.43 306.12,80.54 305.73,79.48 305.82,78.35 306.37,77.27 307.32,76.34 308.60,75.65 310.08,75.26 311.62,75.21 313.08,75.49 314.31,76.07" fill="#f0a3bd" stroke="#e08aa8" stroke-width="0.4"/>
<polygon points="313.77,78.06 313.99,78.59 313.96,79.16 313.67,79.73 313.15,80.23 312.46,80.60 311.67,80.83 310.85,80.87 310.09,80.73 309.46,80.42 309.01,79.97 308.81,79.42 308.85,78.84 309.14,78.28 309.65,77.79 310.32,77.42 311.11,77.21 311.92,77.17 312.68,77.31 313.32,77.62" fill="#f5c2d3" stroke="none" stroke-width="0.5"/>
<polygon points="324.25,73.29 324.74,74.26 324.73,75.32 324.21,76.37 323.25,77.31 321.93,78.03 320.40,78.47 318.81,78.57 317.32,78.33 316.07,77.75 315.19,76.92 314.75,75.90 314.79,74.81 315.31,73.76 316.24,72.85 317.51,72.17 319.00,71.77 320.56,71.70 322.05,71.95 323.33,72.49" fill="#f0a3bd" stroke="#e08aa8" stroke-width="0.4"/>
<polygon points="322.86,74.41 323.11,74.92 323.09,75.47 322.82,76.02 322.32,76.50 321.63,76.88 320.83,77.11 320.00,77.16 319.22,77.04 318.57,76.75 318.10,76.32 317.87,75.80 317.89,75.23 318.16,74.69 318.66,74.21 319.33,73.85 320.12,73.63 320.94,73.58 321.72,73.71 322.38,73.99" fill="#f5c2d3" stroke="none" stroke-width="0.5"/>
<polygon points="333.32,69.66 333.85,70.59 333.88,71.61 333.40,72.62 332.46,73.54 331.15,74.26 329.61,74.70 328.00,74.83 326.47,74.61 325.18,74.08 324.25,73.29 323.77,72.32 323.76,71.27 324.24,70.25 325.16,69.36 326.42,68.69 327.91,68.29 329.50,68.19 331.02,68.40 332.34,68.91" fill="#f0a3bd" stroke="#e08aa8" stroke-width="0.4"/>
<polygon points="331.95,70.76 332.22,71.24 332.23,71.78 331.98,72.31 331.48,72.78 330.80,73.15 330.00,73.38 329.16,73.45 328.36,73.34 327.68,73.07 327.19,72.67 326.93,72.17 326.93,71.63 327.18,71.10 327.67,70.63 328.34,70.27 329.13,70.05 329.96,69.99 330.76,70.10 331.45,70.36" fill="#f5c2d3" stroke="none" stroke-width="0.5"/>
<g transform="translate(144,0)">
<polygon points="262.5,59.8 267.6,61.2 267.6,98.6 262.5,100.2" fill="#d2d3d4" stroke="#bdbdbd" stroke-width="0.4"/>
<rect x="233.6" y="59.6" width="29" height="40.6" fill="#eeeeef" stroke="#cbcbcc" stroke-width="0.6"/>
<rect x="236.8" y="64.3" width="22" height="19.4" rx="2" fill="#d3e1e8" stroke="#b7c3c9" stroke-width="0.6"/>
<rect x="237.8" y="65.2" width="9.5" height="17.4" rx="1.2" fill="#b8d6e4"/>
<rect x="247.3" y="65.2" width="10.5" height="17.4" rx="1.2" fill="#d9d0d0"/>
<line x1="247.5" y1="69.5" x2="257.6" y2="69.5" stroke="#c4b8b8" stroke-width="0.6"/>
<line x1="247.5" y1="73.5" x2="257.6" y2="73.5" stroke="#c4b8b8" stroke-width="0.6"/>
<line x1="247.5" y1="77.5" x2="257.6" y2="77.5" stroke="#c4b8b8" stroke-width="0.6"/>
<rect x="236.8" y="83.7" width="22" height="3.2" fill="#dfe7ec" stroke="#c8cfd3" stroke-width="0.4"/>
<rect x="236.8" y="86.9" width="22" height="1.6" fill="#f3dfe3"/>
<rect x="239.8" y="91.7" width="13.6" height="7.4" fill="#1fa597"/>
<rect x="254.2" y="93" width="6.5" height="5" fill="#e4e4e4" stroke="#cacaca" stroke-width="0.4"/>
<polygon points="218.9,63.6 233.9,60.2 233.9,96.2 218.9,99.6" fill="#dcdee0" stroke="#b4b7ba" stroke-width="0.6"/>
<polygon points="222.6,64.6 231,62.6 231,93.6 222.6,95.6" fill="#c6e4f1" stroke="#a9c9d6" stroke-width="0.4"/>
<rect x="219.2" y="76.2" width="2.3" height="8.4" fill="#5a5a5a"/>
</g>
<text x="0.6" y="10.3" font-size="11.8" text-anchor="start" fill="#111" stroke="#111" stroke-width="0" font-weight="bold">A</text>
<text x="4.2" y="23.6" font-size="10.3" text-anchor="start" fill="#222" stroke="#222" stroke-width="0.22" textLength="126.3" lengthAdjust="spacingAndGlyphs">Platelet tumor coculture system</text>
<defs><linearGradient id="g1" x1="0" x2="1" y1="0" y2="0">
<stop offset="0" stop-color="#c4ccf6"/><stop offset="0.08" stop-color="#c9cef5"/><stop offset="0.19" stop-color="#ddd4ef"/>
<stop offset="0.29" stop-color="#f3d4e1"/><stop offset="0.39" stop-color="#fbd5da"/><stop offset="1" stop-color="#fcd5d6"/></linearGradient></defs>
<rect x="2" y="138" width="516.5" height="20.5" fill="url(#g1)"/>
<text x="32.3" y="114.8" font-size="9.6" text-anchor="middle" fill="#222" stroke="#222" stroke-width="0.22">Seed tumor</text>
<text x="32.3" y="125.9" font-size="9.6" text-anchor="middle" fill="#222" stroke="#222" stroke-width="0.22">cells</text>
<text x="99.1" y="114.8" font-size="9.6" text-anchor="middle" fill="#222" stroke="#222" stroke-width="0.22">Platelet</text>
<text x="99.1" y="125.9" font-size="9.6" text-anchor="middle" fill="#222" stroke="#222" stroke-width="0.22">collection</text>
<text x="159.1" y="114.8" font-size="9.6" text-anchor="middle" fill="#222" stroke="#222" stroke-width="0.22">Co-culture in</text>
<text x="159.1" y="125.9" font-size="9.6" text-anchor="middle" fill="#222" stroke="#222" stroke-width="0.22">PRB</text>
<text x="239.7" y="114.8" font-size="9.6" text-anchor="middle" fill="#222" stroke="#222" stroke-width="0.22">Incubate for 24</text>
<text x="239.7" y="125.9" font-size="9.6" text-anchor="middle" fill="#222" stroke="#222" stroke-width="0.22">hours</text>
<text x="318" y="114.8" font-size="9.6" text-anchor="middle" fill="#222" stroke="#222" stroke-width="0.22">Wash out</text>
<text x="318" y="125.9" font-size="9.6" text-anchor="middle" fill="#222" stroke="#222" stroke-width="0.22">platelets</text>
<text x="382.2" y="114.8" font-size="9.6" text-anchor="middle" fill="#222" stroke="#222" stroke-width="0.22">Incubate for 24</text>
<text x="382.2" y="125.9" font-size="9.6" text-anchor="middle" fill="#222" stroke="#222" stroke-width="0.22">hours</text>
<line x1="32" y1="130" x2="32" y2="143" stroke="#222" stroke-width="1.1"/>
<circle cx="32" cy="143.3" r="1.5" fill="#222"/>
<text x="32" y="155" font-size="9.6" text-anchor="middle" fill="#222" stroke="#222" stroke-width="0.22">Day −1</text>
<line x1="99" y1="130" x2="99" y2="143" stroke="#222" stroke-width="1.1"/>
<circle cx="99" cy="143.3" r="1.5" fill="#222"/>
<text x="99" y="155" font-size="9.6" text-anchor="middle" fill="#222" stroke="#222" stroke-width="0.22">Day 0</text>
<line x1="318" y1="130" x2="318" y2="143" stroke="#222" stroke-width="1.1"/>
<circle cx="318" cy="143.3" r="1.5" fill="#222"/>
<text x="318" y="155" font-size="9.6" text-anchor="middle" fill="#222" stroke="#222" stroke-width="0.22">Day 1</text>
<line x1="472" y1="130" x2="472" y2="143" stroke="#222" stroke-width="1.1"/>
<circle cx="472" cy="143.3" r="1.5" fill="#222"/>
<text x="472" y="155" font-size="9.6" text-anchor="middle" fill="#222" stroke="#222" stroke-width="0.22">Day 2</text>
<rect x="435" y="28.8" width="72.3" height="16.2" fill="#c9d9e6"/>
<text x="471.3" y="40.2" font-size="9.9" text-anchor="middle" fill="#222" stroke="#222" stroke-width="0.22" textLength="53.2" lengthAdjust="spacingAndGlyphs">Cell analysis:</text>
<text x="440.6" y="69.6" font-size="9.4" text-anchor="start" fill="#222" stroke="#222" stroke-width="0.22" textLength="60.6" lengthAdjust="spacingAndGlyphs">Flow cytometry</text>
<text x="440.6" y="80.8" font-size="9.4" text-anchor="start" fill="#222" stroke="#222" stroke-width="0.22" textLength="37.6" lengthAdjust="spacingAndGlyphs">RT-qPCR</text>
<text x="440.6" y="92.1" font-size="9.4" text-anchor="start" fill="#222" stroke="#222" stroke-width="0.22" textLength="51.4" lengthAdjust="spacingAndGlyphs">Western blot</text>
<text x="440.6" y="103.3" font-size="9.4" text-anchor="start" fill="#222" stroke="#222" stroke-width="0.22" textLength="66.5" lengthAdjust="spacingAndGlyphs">Functional assay</text>
<line x1="192.8" y1="84.6" x2="210.3" y2="84.6" stroke="#111" stroke-width="1.4"/>
<path d="M215.3 84.6 L208.4 81.19999999999999 L208.4 88.0 Z" fill="#111"/>
<line x1="267.6" y1="84.6" x2="285.2" y2="84.6" stroke="#111" stroke-width="1.4"/>
<path d="M290.2 84.6 L283.3 81.19999999999999 L283.3 88.0 Z" fill="#111"/>
<line x1="341" y1="84.6" x2="357.8" y2="84.6" stroke="#111" stroke-width="1.4"/>
<path d="M362.8 84.6 L355.90000000000003 81.19999999999999 L355.90000000000003 88.0 Z" fill="#111"/>
<line x1="411.4" y1="84.4" x2="427" y2="84.4" stroke="#111" stroke-width="1.4"/>
<path d="M432 84.4 L425.1 81.0 L425.1 87.80000000000001 Z" fill="#111"/>
<text x="1.2" y="186.3" font-size="11.2" text-anchor="start" fill="#111" stroke="#111" stroke-width="0" font-weight="bold">B</text>
<line x1="49.8" y1="193" x2="49.8" y2="281.6" stroke="#222" stroke-width="1.3"/>
<line x1="49.3" y1="281.1" x2="134" y2="281.1" stroke="#222" stroke-width="1.3"/>
<line x1="46.8" y1="196.2" x2="49.8" y2="196.2" stroke="#222" stroke-width="1"/>
<text x="43.4" y="198.7" font-size="7.2" text-anchor="end" fill="#222" stroke="#222" stroke-width="0.22" textLength="22.75" lengthAdjust="spacingAndGlyphs">40000</text>
<line x1="46.8" y1="217.3" x2="49.8" y2="217.3" stroke="#222" stroke-width="1"/>
<text x="43.4" y="219.8" font-size="7.2" text-anchor="end" fill="#222" stroke="#222" stroke-width="0.22" textLength="22.75" lengthAdjust="spacingAndGlyphs">30000</text>
<line x1="46.8" y1="238.6" x2="49.8" y2="238.6" stroke="#222" stroke-width="1"/>
<text x="43.4" y="241.1" font-size="7.2" text-anchor="end" fill="#222" stroke="#222" stroke-width="0.22" textLength="22.75" lengthAdjust="spacingAndGlyphs">20000</text>
<line x1="46.8" y1="259.8" x2="49.8" y2="259.8" stroke="#222" stroke-width="1"/>
<text x="43.4" y="262.3" font-size="7.2" text-anchor="end" fill="#222" stroke="#222" stroke-width="0.22" textLength="22.75" lengthAdjust="spacingAndGlyphs">10000</text>
<line x1="46.8" y1="281.1" x2="49.8" y2="281.1" stroke="#222" stroke-width="1"/>
<text x="43.4" y="283.6" font-size="7.2" text-anchor="end" fill="#222" stroke="#222" stroke-width="0.22">0</text>
<line x1="62.9" y1="281.1" x2="62.9" y2="284.1" stroke="#222" stroke-width="1"/>
<line x1="82.5" y1="281.1" x2="82.5" y2="284.1" stroke="#222" stroke-width="1"/>
<line x1="102.4" y1="281.1" x2="102.4" y2="284.1" stroke="#222" stroke-width="1"/>
<line x1="121.8" y1="281.1" x2="121.8" y2="284.1" stroke="#222" stroke-width="1"/>
<text x="64.7" y="291.5" font-size="8.6" text-anchor="end" fill="#222" stroke="#222" stroke-width="0.22" textLength="48.45" lengthAdjust="spacingAndGlyphs" transform="rotate(-45 64.7 291.5)">MDA-MB-468</text>
<text x="84.3" y="291.5" font-size="8.6" text-anchor="end" fill="#222" stroke="#222" stroke-width="0.22" textLength="43.89" lengthAdjust="spacingAndGlyphs" transform="rotate(-45 84.3 291.5)">with Platelets</text>
<text x="104.2" y="291.5" font-size="8.6" text-anchor="end" fill="#222" stroke="#222" stroke-width="0.22" textLength="22.77" lengthAdjust="spacingAndGlyphs" transform="rotate(-45 104.2 291.5)">Aspirin</text>
<text x="123.6" y="291.5" font-size="8.6" text-anchor="end" fill="#222" stroke="#222" stroke-width="0.22" textLength="32.84" lengthAdjust="spacingAndGlyphs" transform="rotate(-45 123.6 291.5)">Ticagrelor</text>
<text x="13.9" y="238.5" font-size="8.6" text-anchor="middle" fill="#222" stroke="#222" stroke-width="0.4" textLength="28.6" lengthAdjust="spacingAndGlyphs" transform="rotate(-90 13.9 238.5)">PDL1 MFI</text>
<line x1="62.9" y1="258.2" x2="82.5" y2="219.4" stroke="#111" stroke-width="1.1"/>
<line x1="62.9" y1="254.1" x2="82.5" y2="225.7" stroke="#111" stroke-width="1.1"/>
<line x1="82.5" y1="225.7" x2="102.4" y2="233.2" stroke="#111" stroke-width="1.1"/>
<line x1="102.4" y1="233.2" x2="121.8" y2="235.5" stroke="#111" stroke-width="1.1"/>
<line x1="62.9" y1="249" x2="82.5" y2="228" stroke="#111" stroke-width="1.1"/>
<line x1="82.5" y1="228" x2="102.4" y2="236" stroke="#111" stroke-width="1.1"/>
<line x1="102.4" y1="236" x2="121.8" y2="243.5" stroke="#111" stroke-width="1.1"/>
<line x1="62.9" y1="257" x2="82.5" y2="234.9" stroke="#111" stroke-width="1.1"/>
<line x1="82.5" y1="234.9" x2="102.4" y2="242.3" stroke="#111" stroke-width="1.1"/>
<line x1="102.4" y1="242.3" x2="121.8" y2="245.2" stroke="#111" stroke-width="1.1"/>
<line x1="62.9" y1="261.1" x2="82.5" y2="242.9" stroke="#111" stroke-width="1.1"/>
<line x1="82.5" y1="242.9" x2="102.4" y2="252" stroke="#111" stroke-width="1.1"/>
<line x1="102.4" y1="252" x2="121.8" y2="259.5" stroke="#111" stroke-width="1.1"/>
<line x1="62.9" y1="259.8" x2="82.5" y2="245.2" stroke="#111" stroke-width="1.1"/>
<line x1="82.5" y1="245.2" x2="102.4" y2="256" stroke="#111" stroke-width="1.1"/>
<line x1="102.4" y1="256" x2="121.8" y2="261.2" stroke="#111" stroke-width="1.1"/>
<line x1="62.9" y1="262.3" x2="82.5" y2="248.6" stroke="#111" stroke-width="1.1"/>
<line x1="82.5" y1="248.6" x2="102.4" y2="257.8" stroke="#111" stroke-width="1.1"/>
<line x1="102.4" y1="257.8" x2="121.8" y2="252.6" stroke="#111" stroke-width="1.1"/>
<line x1="62.9" y1="269.3" x2="82.5" y2="251.5" stroke="#111" stroke-width="1.1"/>
<line x1="82.5" y1="251.5" x2="102.4" y2="259.5" stroke="#111" stroke-width="1.1"/>
<line x1="102.4" y1="259.5" x2="121.8" y2="262.9" stroke="#111" stroke-width="1.1"/>
<line x1="62.9" y1="272.5" x2="82.5" y2="263.7" stroke="#111" stroke-width="1.1"/>
<line x1="62.9" y1="257.5" x2="82.5" y2="252.6" stroke="#111" stroke-width="1.1"/>
<circle cx="62.9" cy="258.2" r="1.75" fill="#1b5484"/>
<circle cx="82.5" cy="219.4" r="1.75" fill="#cc1843"/>
<circle cx="62.9" cy="254.1" r="1.75" fill="#1b5484"/>
<circle cx="82.5" cy="225.7" r="1.75" fill="#cc1843"/>
<circle cx="102.4" cy="233.2" r="1.75" fill="#52bb63"/>
<circle cx="121.8" cy="235.5" r="1.75" fill="#4f2464"/>
<circle cx="62.9" cy="249" r="1.75" fill="#1b5484"/>
<circle cx="82.5" cy="228" r="1.75" fill="#cc1843"/>
<circle cx="102.4" cy="236" r="1.75" fill="#52bb63"/>
<circle cx="121.8" cy="243.5" r="1.75" fill="#4f2464"/>
<circle cx="62.9" cy="257" r="1.75" fill="#1b5484"/>
<circle cx="82.5" cy="234.9" r="1.75" fill="#cc1843"/>
<circle cx="102.4" cy="242.3" r="1.75" fill="#52bb63"/>
<circle cx="121.8" cy="245.2" r="1.75" fill="#4f2464"/>
<circle cx="62.9" cy="261.1" r="1.75" fill="#1b5484"/>
<circle cx="82.5" cy="242.9" r="1.75" fill="#cc1843"/>
<circle cx="102.4" cy="252" r="1.75" fill="#52bb63"/>
<circle cx="121.8" cy="259.5" r="1.75" fill="#4f2464"/>
<circle cx="62.9" cy="259.8" r="1.75" fill="#1b5484"/>
<circle cx="82.5" cy="245.2" r="1.75" fill="#cc1843"/>
<circle cx="102.4" cy="256" r="1.75" fill="#52bb63"/>
<circle cx="121.8" cy="261.2" r="1.75" fill="#4f2464"/>
<circle cx="62.9" cy="262.3" r="1.75" fill="#1b5484"/>
<circle cx="82.5" cy="248.6" r="1.75" fill="#cc1843"/>
<circle cx="102.4" cy="257.8" r="1.75" fill="#52bb63"/>
<circle cx="121.8" cy="252.6" r="1.75" fill="#4f2464"/>
<circle cx="62.9" cy="269.3" r="1.75" fill="#1b5484"/>
<circle cx="82.5" cy="251.5" r="1.75" fill="#cc1843"/>
<circle cx="102.4" cy="259.5" r="1.75" fill="#52bb63"/>
<circle cx="121.8" cy="262.9" r="1.75" fill="#4f2464"/>
<circle cx="62.9" cy="272.5" r="1.75" fill="#1b5484"/>
<circle cx="82.5" cy="263.7" r="1.75" fill="#cc1843"/>
<circle cx="62.9" cy="257.5" r="1.75" fill="#1b5484"/>
<circle cx="82.5" cy="252.6" r="1.75" fill="#cc1843"/>
<circle cx="121.8" cy="257.8" r="1.75" fill="#4f2464"/>
<line x1="63" y1="209.5" x2="81" y2="209.5" stroke="#262626" stroke-width="1.2"/>
<circle cx="70.05" cy="204.6" r="1.15" fill="#151515"/>
<circle cx="73.95" cy="204.6" r="1.15" fill="#151515"/>
<line x1="84.6" y1="209.5" x2="102.4" y2="209.5" stroke="#262626" stroke-width="1.2"/>
<circle cx="91.55" cy="204.6" r="1.15" fill="#151515"/>
<circle cx="95.45" cy="204.6" r="1.15" fill="#151515"/>
<line x1="83" y1="192.5" x2="121.8" y2="192.5" stroke="#262626" stroke-width="1.2"/>
<circle cx="100.45" cy="187.6" r="1.15" fill="#151515"/>
<circle cx="104.35" cy="187.6" r="1.15" fill="#151515"/>
<line x1="189.2" y1="193" x2="189.2" y2="281.2" stroke="#222" stroke-width="1.3"/>
<line x1="188.7" y1="280.7" x2="274" y2="280.7" stroke="#222" stroke-width="1.3"/>
<line x1="186.2" y1="196.2" x2="189.2" y2="196.2" stroke="#222" stroke-width="1"/>
<text x="183" y="198.7" font-size="7.2" text-anchor="end" fill="#222" stroke="#222" stroke-width="0.22" textLength="22.75" lengthAdjust="spacingAndGlyphs">30000</text>
<line x1="186.2" y1="224.3" x2="189.2" y2="224.3" stroke="#222" stroke-width="1"/>
<text x="183" y="226.8" font-size="7.2" text-anchor="end" fill="#222" stroke="#222" stroke-width="0.22" textLength="22.75" lengthAdjust="spacingAndGlyphs">20000</text>
<line x1="186.2" y1="252.5" x2="189.2" y2="252.5" stroke="#222" stroke-width="1"/>
<text x="183" y="255.0" font-size="7.2" text-anchor="end" fill="#222" stroke="#222" stroke-width="0.22" textLength="22.75" lengthAdjust="spacingAndGlyphs">10000</text>
<line x1="186.2" y1="280.7" x2="189.2" y2="280.7" stroke="#222" stroke-width="1"/>
<text x="183" y="283.2" font-size="7.2" text-anchor="end" fill="#222" stroke="#222" stroke-width="0.22">0</text>
<line x1="202.1" y1="280.7" x2="202.1" y2="283.7" stroke="#222" stroke-width="1"/>
<line x1="221.9" y1="280.7" x2="221.9" y2="283.7" stroke="#222" stroke-width="1"/>
<line x1="241.3" y1="280.7" x2="241.3" y2="283.7" stroke="#222" stroke-width="1"/>
<line x1="261.2" y1="280.7" x2="261.2" y2="283.7" stroke="#222" stroke-width="1"/>
<text x="203.9" y="291.09999999999997" font-size="8.6" text-anchor="end" fill="#222" stroke="#222" stroke-width="0.22" textLength="18.68" lengthAdjust="spacingAndGlyphs" transform="rotate(-45 203.9 291.09999999999997)">A549</text>
<text x="223.70000000000002" y="291.09999999999997" font-size="8.6" text-anchor="end" fill="#222" stroke="#222" stroke-width="0.22" textLength="43.89" lengthAdjust="spacingAndGlyphs" transform="rotate(-45 223.70000000000002 291.09999999999997)">with Platelets</text>
<text x="243.10000000000002" y="291.09999999999997" font-size="8.6" text-anchor="end" fill="#222" stroke="#222" stroke-width="0.22" textLength="22.77" lengthAdjust="spacingAndGlyphs" transform="rotate(-45 243.10000000000002 291.09999999999997)">Aspirin</text>
<text x="263.0" y="291.09999999999997" font-size="8.6" text-anchor="end" fill="#222" stroke="#222" stroke-width="0.22" textLength="32.84" lengthAdjust="spacingAndGlyphs" transform="rotate(-45 263.0 291.09999999999997)">Ticagrelor</text>
<text x="152.20000000000002" y="238.7" font-size="8.6" text-anchor="middle" fill="#222" stroke="#222" stroke-width="0.4" textLength="28.6" lengthAdjust="spacingAndGlyphs" transform="rotate(-90 152.20000000000002 238.7)">PDL1 MFI</text>
<line x1="202.1" y1="229.2" x2="221.9" y2="206.5" stroke="#111" stroke-width="1.1"/>
<line x1="221.9" y1="206.5" x2="241.3" y2="222.2" stroke="#111" stroke-width="1.1"/>
<line x1="241.3" y1="222.2" x2="261.2" y2="214.1" stroke="#111" stroke-width="1.1"/>
<line x1="202.1" y1="234.3" x2="221.9" y2="213.5" stroke="#111" stroke-width="1.1"/>
<line x1="221.9" y1="213.5" x2="241.3" y2="220.9" stroke="#111" stroke-width="1.1"/>
<line x1="241.3" y1="220.9" x2="261.2" y2="218.8" stroke="#111" stroke-width="1.1"/>
<line x1="202.1" y1="236.1" x2="221.9" y2="221.1" stroke="#111" stroke-width="1.1"/>
<line x1="221.9" y1="221.1" x2="241.3" y2="223.1" stroke="#111" stroke-width="1.1"/>
<line x1="241.3" y1="223.1" x2="261.2" y2="224.2" stroke="#111" stroke-width="1.1"/>
<line x1="202.1" y1="243.3" x2="221.9" y2="239.7" stroke="#111" stroke-width="1.1"/>
<line x1="221.9" y1="239.7" x2="241.3" y2="243.3" stroke="#111" stroke-width="1.1"/>
<line x1="241.3" y1="243.3" x2="261.2" y2="243.7" stroke="#111" stroke-width="1.1"/>
<line x1="202.1" y1="250.1" x2="221.9" y2="244.1" stroke="#111" stroke-width="1.1"/>
<line x1="221.9" y1="244.1" x2="241.3" y2="245.8" stroke="#111" stroke-width="1.1"/>
<line x1="241.3" y1="245.8" x2="261.2" y2="245.5" stroke="#111" stroke-width="1.1"/>
<line x1="202.1" y1="251.1" x2="221.9" y2="246" stroke="#111" stroke-width="1.1"/>
<line x1="221.9" y1="246" x2="241.3" y2="250.9" stroke="#111" stroke-width="1.1"/>
<line x1="241.3" y1="250.9" x2="261.2" y2="247.4" stroke="#111" stroke-width="1.1"/>
<line x1="202.1" y1="252.5" x2="221.9" y2="248.2" stroke="#111" stroke-width="1.1"/>
<line x1="221.9" y1="248.2" x2="241.3" y2="253.8" stroke="#111" stroke-width="1.1"/>
<line x1="241.3" y1="253.8" x2="261.2" y2="254.5" stroke="#111" stroke-width="1.1"/>
<line x1="202.1" y1="261.2" x2="221.9" y2="257.2" stroke="#111" stroke-width="1.1"/>
<line x1="221.9" y1="257.2" x2="241.3" y2="260.6" stroke="#111" stroke-width="1.1"/>
<line x1="241.3" y1="260.6" x2="261.2" y2="258.1" stroke="#111" stroke-width="1.1"/>
<line x1="202.1" y1="274.0" x2="221.9" y2="272.1" stroke="#111" stroke-width="1.1"/>
<line x1="221.9" y1="272.1" x2="241.3" y2="273.3" stroke="#111" stroke-width="1.1"/>
<line x1="241.3" y1="273.3" x2="261.2" y2="272.9" stroke="#111" stroke-width="1.1"/>
<circle cx="202.1" cy="229.2" r="1.75" fill="#1b5484"/>
<circle cx="221.9" cy="206.5" r="1.75" fill="#cc1843"/>
<circle cx="241.3" cy="222.2" r="1.75" fill="#52bb63"/>
<circle cx="261.2" cy="214.1" r="1.75" fill="#4f2464"/>
<circle cx="202.1" cy="234.3" r="1.75" fill="#1b5484"/>
<circle cx="221.9" cy="213.5" r="1.75" fill="#cc1843"/>
<circle cx="241.3" cy="220.9" r="1.75" fill="#52bb63"/>
<circle cx="261.2" cy="218.8" r="1.75" fill="#4f2464"/>
<circle cx="202.1" cy="236.1" r="1.75" fill="#1b5484"/>
<circle cx="221.9" cy="221.1" r="1.75" fill="#cc1843"/>
<circle cx="241.3" cy="223.1" r="1.75" fill="#52bb63"/>
<circle cx="261.2" cy="224.2" r="1.75" fill="#4f2464"/>
<circle cx="202.1" cy="243.3" r="1.75" fill="#1b5484"/>
<circle cx="221.9" cy="239.7" r="1.75" fill="#cc1843"/>
<circle cx="241.3" cy="243.3" r="1.75" fill="#52bb63"/>
<circle cx="261.2" cy="243.7" r="1.75" fill="#4f2464"/>
<circle cx="202.1" cy="250.1" r="1.75" fill="#1b5484"/>
<circle cx="221.9" cy="244.1" r="1.75" fill="#cc1843"/>
<circle cx="241.3" cy="245.8" r="1.75" fill="#52bb63"/>
<circle cx="261.2" cy="245.5" r="1.75" fill="#4f2464"/>
<circle cx="202.1" cy="251.1" r="1.75" fill="#1b5484"/>
<circle cx="221.9" cy="246" r="1.75" fill="#cc1843"/>
<circle cx="241.3" cy="250.9" r="1.75" fill="#52bb63"/>
<circle cx="261.2" cy="247.4" r="1.75" fill="#4f2464"/>
<circle cx="202.1" cy="252.5" r="1.75" fill="#1b5484"/>
<circle cx="221.9" cy="248.2" r="1.75" fill="#cc1843"/>
<circle cx="241.3" cy="253.8" r="1.75" fill="#52bb63"/>
<circle cx="261.2" cy="254.5" r="1.75" fill="#4f2464"/>
<circle cx="202.1" cy="261.2" r="1.75" fill="#1b5484"/>
<circle cx="221.9" cy="257.2" r="1.75" fill="#cc1843"/>
<circle cx="241.3" cy="260.6" r="1.75" fill="#52bb63"/>
<circle cx="261.2" cy="258.1" r="1.75" fill="#4f2464"/>
<circle cx="202.1" cy="274.0" r="1.75" fill="#1b5484"/>
<circle cx="221.9" cy="272.1" r="1.75" fill="#cc1843"/>
<circle cx="241.3" cy="273.3" r="1.75" fill="#52bb63"/>
<circle cx="261.2" cy="272.9" r="1.75" fill="#4f2464"/>
<line x1="202" y1="200.5" x2="220" y2="200.5" stroke="#262626" stroke-width="1.2"/>
<circle cx="211.0" cy="195.6" r="1.15" fill="#151515"/>
<line x1="223.4" y1="200.5" x2="241" y2="200.5" stroke="#262626" stroke-width="1.2"/>
<circle cx="232.2" cy="195.6" r="1.15" fill="#151515"/>
<line x1="222" y1="190.5" x2="261.2" y2="190.5" stroke="#262626" stroke-width="1.2"/>
<circle cx="241.6" cy="185.6" r="1.15" fill="#151515"/>
<text x="311" y="186.3" font-size="11.2" text-anchor="start" fill="#111" stroke="#111" stroke-width="0" font-weight="bold">C</text>
<line x1="334.2" y1="192" x2="334.2" y2="281.1" stroke="#222" stroke-width="1.3"/>
<line x1="333.7" y1="280.6" x2="375.3" y2="280.6" stroke="#222" stroke-width="1.3"/>
<line x1="331.2" y1="195.9" x2="334.2" y2="195.9" stroke="#222" stroke-width="1"/>
<text x="328" y="198.4" font-size="7.2" text-anchor="end" fill="#222" stroke="#222" stroke-width="0.22">3</text>
<line x1="331.2" y1="224" x2="334.2" y2="224" stroke="#222" stroke-width="1"/>
<text x="328" y="226.5" font-size="7.2" text-anchor="end" fill="#222" stroke="#222" stroke-width="0.22">2</text>
<line x1="331.2" y1="252.3" x2="334.2" y2="252.3" stroke="#222" stroke-width="1"/>
<text x="328" y="254.8" font-size="7.2" text-anchor="end" fill="#222" stroke="#222" stroke-width="0.22">1</text>
<line x1="331.2" y1="280.6" x2="334.2" y2="280.6" stroke="#222" stroke-width="1"/>
<text x="328" y="283.1" font-size="7.2" text-anchor="end" fill="#222" stroke="#222" stroke-width="0.22">0</text>
<line x1="346.1" y1="280.6" x2="346.1" y2="283.6" stroke="#222" stroke-width="1"/>
<line x1="364.5" y1="280.6" x2="364.5" y2="283.6" stroke="#222" stroke-width="1"/>
<text x="347.90000000000003" y="291.0" font-size="8.6" text-anchor="end" fill="#222" stroke="#222" stroke-width="0.22" textLength="48.45" lengthAdjust="spacingAndGlyphs" transform="rotate(-45 347.90000000000003 291.0)">MDA-MB-468</text>
<text x="366.3" y="291.0" font-size="8.6" text-anchor="end" fill="#222" stroke="#222" stroke-width="0.22" textLength="18.68" lengthAdjust="spacingAndGlyphs" transform="rotate(-45 366.3 291.0)">A549</text>
<text x="317.7" y="238.6" font-size="8.6" text-anchor="middle" fill="#222" stroke="#222" stroke-width="0.4" textLength="23.5" lengthAdjust="spacingAndGlyphs" transform="rotate(-90 317.7 238.6)">Log(FC)</text>
<line x1="346.1" y1="208.7" x2="364.5" y2="272.1" stroke="#111" stroke-width="1.1"/>
<line x1="346.1" y1="245.1" x2="364.5" y2="273.5" stroke="#111" stroke-width="1.1"/>
<line x1="346.1" y1="264.4" x2="364.5" y2="274.5" stroke="#111" stroke-width="1.1"/>
<line x1="346.1" y1="266.7" x2="364.5" y2="275.5" stroke="#111" stroke-width="1.1"/>
<line x1="346.1" y1="268.9" x2="364.5" y2="276.3" stroke="#111" stroke-width="1.1"/>
<line x1="346.1" y1="271.2" x2="364.5" y2="277.2" stroke="#111" stroke-width="1.1"/>
<line x1="346.1" y1="273.9" x2="364.5" y2="277.5" stroke="#111" stroke-width="1.1"/>
<circle cx="346.1" cy="208.7" r="1.75" fill="#1b5484"/>
<circle cx="364.5" cy="272.1" r="1.75" fill="#cc1843"/>
<circle cx="346.1" cy="245.1" r="1.75" fill="#1b5484"/>
<circle cx="364.5" cy="273.5" r="1.75" fill="#cc1843"/>
<circle cx="346.1" cy="264.4" r="1.75" fill="#1b5484"/>
<circle cx="364.5" cy="274.5" r="1.75" fill="#cc1843"/>
<circle cx="346.1" cy="266.7" r="1.75" fill="#1b5484"/>
<circle cx="364.5" cy="275.5" r="1.75" fill="#cc1843"/>
<circle cx="346.1" cy="268.9" r="1.75" fill="#1b5484"/>
<circle cx="364.5" cy="276.3" r="1.75" fill="#cc1843"/>
<circle cx="346.1" cy="271.2" r="1.75" fill="#1b5484"/>
<circle cx="364.5" cy="277.2" r="1.75" fill="#cc1843"/>
<circle cx="346.1" cy="273.9" r="1.75" fill="#1b5484"/>
<circle cx="364.5" cy="277.5" r="1.75" fill="#cc1843"/>
<line x1="347.2" y1="198.5" x2="364.7" y2="198.5" stroke="#262626" stroke-width="1.2"/>
<circle cx="352.05" cy="193.6" r="1.15" fill="#151515"/>
<circle cx="355.95" cy="193.6" r="1.15" fill="#151515"/>
<circle cx="359.85" cy="193.6" r="1.15" fill="#151515"/>
<text x="1.3" y="350.4" font-size="11.4" text-anchor="start" fill="#111" stroke="#111" stroke-width="0" font-weight="bold">D</text>
<line x1="49.4" y1="356" x2="49.4" y2="444.3" stroke="#222" stroke-width="1.3"/>
<line x1="48.9" y1="443.8" x2="107" y2="443.8" stroke="#222" stroke-width="1.3"/>
<line x1="46.4" y1="359" x2="49.4" y2="359" stroke="#222" stroke-width="1"/>
<text x="43" y="361.5" font-size="7.2" text-anchor="end" fill="#222" stroke="#222" stroke-width="0.22" textLength="22.75" lengthAdjust="spacingAndGlyphs">50000</text>
<line x1="46.4" y1="376.1" x2="49.4" y2="376.1" stroke="#222" stroke-width="1"/>
<text x="43" y="378.6" font-size="7.2" text-anchor="end" fill="#222" stroke="#222" stroke-width="0.22" textLength="22.75" lengthAdjust="spacingAndGlyphs">40000</text>
<line x1="46.4" y1="393.1" x2="49.4" y2="393.1" stroke="#222" stroke-width="1"/>
<text x="43" y="395.6" font-size="7.2" text-anchor="end" fill="#222" stroke="#222" stroke-width="0.22" textLength="22.75" lengthAdjust="spacingAndGlyphs">30000</text>
<line x1="46.4" y1="410" x2="49.4" y2="410" stroke="#222" stroke-width="1"/>
<text x="43" y="412.5" font-size="7.2" text-anchor="end" fill="#222" stroke="#222" stroke-width="0.22" textLength="22.75" lengthAdjust="spacingAndGlyphs">20000</text>
<line x1="46.4" y1="426.7" x2="49.4" y2="426.7" stroke="#222" stroke-width="1"/>
<text x="43" y="429.2" font-size="7.2" text-anchor="end" fill="#222" stroke="#222" stroke-width="0.22" textLength="22.75" lengthAdjust="spacingAndGlyphs">10000</text>
<line x1="46.4" y1="443.8" x2="49.4" y2="443.8" stroke="#222" stroke-width="1"/>
<text x="43" y="446.3" font-size="7.2" text-anchor="end" fill="#222" stroke="#222" stroke-width="0.22">0</text>
<line x1="60.6" y1="443.8" x2="60.6" y2="446.8" stroke="#222" stroke-width="1"/>
<line x1="77.6" y1="443.8" x2="77.6" y2="446.8" stroke="#222" stroke-width="1"/>
<line x1="94.7" y1="443.8" x2="94.7" y2="446.8" stroke="#222" stroke-width="1"/>
<text x="62.4" y="454.2" font-size="8.6" text-anchor="end" fill="#222" stroke="#222" stroke-width="0.22" textLength="48.45" lengthAdjust="spacingAndGlyphs" transform="rotate(-45 62.4 454.2)">MDA-MB-468</text>
<text x="79.39999999999999" y="454.2" font-size="8.6" text-anchor="end" fill="#222" stroke="#222" stroke-width="0.22" textLength="43.89" lengthAdjust="spacingAndGlyphs" transform="rotate(-45 79.39999999999999 454.2)">with Platelets</text>
<text x="96.5" y="454.2" font-size="8.6" text-anchor="end" fill="#222" stroke="#222" stroke-width="0.22" textLength="31.6" lengthAdjust="spacingAndGlyphs" transform="rotate(-45 96.5 454.2)">Transwell</text>
<text x="14.1" y="401.3" font-size="8.6" text-anchor="middle" fill="#222" stroke="#222" stroke-width="0.4" textLength="28.6" lengthAdjust="spacingAndGlyphs" transform="rotate(-90 14.1 401.3)">PDL1 MFI</text>
<line x1="60.6" y1="442.6" x2="77.6" y2="379.3" stroke="#111" stroke-width="1.1"/>
<line x1="77.6" y1="379.3" x2="94.7" y2="434.6" stroke="#111" stroke-width="1.1"/>
<line x1="60.6" y1="431.4" x2="77.6" y2="388.8" stroke="#111" stroke-width="1.1"/>
<line x1="77.6" y1="388.8" x2="94.7" y2="397.9" stroke="#111" stroke-width="1.1"/>
<line x1="60.6" y1="429.3" x2="77.6" y2="399.2" stroke="#111" stroke-width="1.1"/>
<line x1="77.6" y1="399.2" x2="94.7" y2="408.8" stroke="#111" stroke-width="1.1"/>
<line x1="60.6" y1="427.1" x2="77.6" y2="407.2" stroke="#111" stroke-width="1.1"/>
<line x1="77.6" y1="407.2" x2="94.7" y2="412.7" stroke="#111" stroke-width="1.1"/>
<line x1="60.6" y1="418.2" x2="77.6" y2="411.8" stroke="#111" stroke-width="1.1"/>
<line x1="77.6" y1="411.8" x2="94.7" y2="420.2" stroke="#111" stroke-width="1.1"/>
<line x1="60.6" y1="425" x2="77.6" y2="409.1" stroke="#111" stroke-width="1.1"/>
<line x1="77.6" y1="409.1" x2="94.7" y2="437.3" stroke="#111" stroke-width="1.1"/>
<line x1="60.6" y1="433.5" x2="77.6" y2="413.9" stroke="#111" stroke-width="1.1"/>
<line x1="60.6" y1="435.4" x2="77.6" y2="415.5" stroke="#111" stroke-width="1.1"/>
<circle cx="60.6" cy="442.6" r="1.75" fill="#1b5484"/>
<circle cx="77.6" cy="379.3" r="1.75" fill="#cc1843"/>
<circle cx="94.7" cy="434.6" r="1.75" fill="#52bb63"/>
<circle cx="60.6" cy="431.4" r="1.75" fill="#1b5484"/>
<circle cx="77.6" cy="388.8" r="1.75" fill="#cc1843"/>
<circle cx="94.7" cy="397.9" r="1.75" fill="#52bb63"/>
<circle cx="60.6" cy="429.3" r="1.75" fill="#1b5484"/>
<circle cx="77.6" cy="399.2" r="1.75" fill="#cc1843"/>
<circle cx="94.7" cy="408.8" r="1.75" fill="#52bb63"/>
<circle cx="60.6" cy="427.1" r="1.75" fill="#1b5484"/>
<circle cx="77.6" cy="407.2" r="1.75" fill="#cc1843"/>
<circle cx="94.7" cy="412.7" r="1.75" fill="#52bb63"/>
<circle cx="60.6" cy="418.2" r="1.75" fill="#1b5484"/>
<circle cx="77.6" cy="411.8" r="1.75" fill="#cc1843"/>
<circle cx="94.7" cy="420.2" r="1.75" fill="#52bb63"/>
<circle cx="60.6" cy="425" r="1.75" fill="#1b5484"/>
<circle cx="77.6" cy="409.1" r="1.75" fill="#cc1843"/>
<circle cx="94.7" cy="437.3" r="1.75" fill="#52bb63"/>
<circle cx="60.6" cy="433.5" r="1.75" fill="#1b5484"/>
<circle cx="77.6" cy="413.9" r="1.75" fill="#cc1843"/>
<circle cx="60.6" cy="435.4" r="1.75" fill="#1b5484"/>
<circle cx="77.6" cy="415.5" r="1.75" fill="#cc1843"/>
<line x1="60.6" y1="365.5" x2="75.7" y2="365.5" stroke="#262626" stroke-width="1.2"/>
<circle cx="66.2" cy="360.6" r="1.15" fill="#151515"/>
<circle cx="70.1" cy="360.6" r="1.15" fill="#151515"/>
<line x1="79.4" y1="365.5" x2="94.7" y2="365.5" stroke="#262626" stroke-width="1.2"/>
<circle cx="87.05" cy="360.6" r="1.15" fill="#151515"/>
<line x1="160.6" y1="356" x2="160.6" y2="444.8" stroke="#222" stroke-width="1.3"/>
<line x1="160.1" y1="444.3" x2="217" y2="444.3" stroke="#222" stroke-width="1.3"/>
<line x1="157.6" y1="359.2" x2="160.6" y2="359.2" stroke="#222" stroke-width="1"/>
<text x="154.2" y="361.7" font-size="7.2" text-anchor="end" fill="#222" stroke="#222" stroke-width="0.22" textLength="22.75" lengthAdjust="spacingAndGlyphs">40000</text>
<line x1="157.6" y1="380.8" x2="160.6" y2="380.8" stroke="#222" stroke-width="1"/>
<text x="154.2" y="383.3" font-size="7.2" text-anchor="end" fill="#222" stroke="#222" stroke-width="0.22" textLength="22.75" lengthAdjust="spacingAndGlyphs">30000</text>
<line x1="157.6" y1="402" x2="160.6" y2="402" stroke="#222" stroke-width="1"/>
<text x="154.2" y="404.5" font-size="7.2" text-anchor="end" fill="#222" stroke="#222" stroke-width="0.22" textLength="22.75" lengthAdjust="spacingAndGlyphs">20000</text>
<line x1="157.6" y1="423.4" x2="160.6" y2="423.4" stroke="#222" stroke-width="1"/>
<text x="154.2" y="425.9" font-size="7.2" text-anchor="end" fill="#222" stroke="#222" stroke-width="0.22" textLength="22.75" lengthAdjust="spacingAndGlyphs">10000</text>
<line x1="157.6" y1="444.3" x2="160.6" y2="444.3" stroke="#222" stroke-width="1"/>
<text x="154.2" y="446.8" font-size="7.2" text-anchor="end" fill="#222" stroke="#222" stroke-width="0.22">0</text>
<line x1="171.8" y1="444.3" x2="171.8" y2="447.3" stroke="#222" stroke-width="1"/>
<line x1="188.8" y1="444.3" x2="188.8" y2="447.3" stroke="#222" stroke-width="1"/>
<line x1="205.9" y1="444.3" x2="205.9" y2="447.3" stroke="#222" stroke-width="1"/>
<text x="173.60000000000002" y="454.7" font-size="8.6" text-anchor="end" fill="#222" stroke="#222" stroke-width="0.22" textLength="18.68" lengthAdjust="spacingAndGlyphs" transform="rotate(-45 173.60000000000002 454.7)">A549</text>
<text x="190.60000000000002" y="454.7" font-size="8.6" text-anchor="end" fill="#222" stroke="#222" stroke-width="0.22" textLength="43.89" lengthAdjust="spacingAndGlyphs" transform="rotate(-45 190.60000000000002 454.7)">with Platelets</text>
<text x="207.70000000000002" y="454.7" font-size="8.6" text-anchor="end" fill="#222" stroke="#222" stroke-width="0.22" textLength="31.6" lengthAdjust="spacingAndGlyphs" transform="rotate(-45 207.70000000000002 454.7)">Transwell</text>
<text x="125.7" y="401.4" font-size="8.6" text-anchor="middle" fill="#222" stroke="#222" stroke-width="0.4" textLength="28.6" lengthAdjust="spacingAndGlyphs" transform="rotate(-90 125.7 401.4)">PDL1 MFI</text>
<line x1="171.8" y1="397.3" x2="188.8" y2="377.5" stroke="#111" stroke-width="1.1"/>
<line x1="188.8" y1="377.5" x2="205.9" y2="398" stroke="#111" stroke-width="1.1"/>
<line x1="171.8" y1="402.7" x2="188.8" y2="390.9" stroke="#111" stroke-width="1.1"/>
<line x1="188.8" y1="390.9" x2="205.9" y2="393" stroke="#111" stroke-width="1.1"/>
<line x1="171.8" y1="409.3" x2="188.8" y2="395.6" stroke="#111" stroke-width="1.1"/>
<line x1="188.8" y1="395.6" x2="205.9" y2="400.8" stroke="#111" stroke-width="1.1"/>
<line x1="171.8" y1="415.6" x2="188.8" y2="401.5" stroke="#111" stroke-width="1.1"/>
<line x1="188.8" y1="401.5" x2="205.9" y2="412.6" stroke="#111" stroke-width="1.1"/>
<line x1="171.8" y1="420.6" x2="188.8" y2="416.6" stroke="#111" stroke-width="1.1"/>
<line x1="188.8" y1="416.6" x2="205.9" y2="420.1" stroke="#111" stroke-width="1.1"/>
<line x1="171.8" y1="422" x2="188.8" y2="418.9" stroke="#111" stroke-width="1.1"/>
<line x1="188.8" y1="418.9" x2="205.9" y2="423.1" stroke="#111" stroke-width="1.1"/>
<circle cx="171.8" cy="397.3" r="1.75" fill="#1b5484"/>
<circle cx="188.8" cy="377.5" r="1.75" fill="#cc1843"/>
<circle cx="205.9" cy="398" r="1.75" fill="#52bb63"/>
<circle cx="171.8" cy="402.7" r="1.75" fill="#1b5484"/>
<circle cx="188.8" cy="390.9" r="1.75" fill="#cc1843"/>
<circle cx="205.9" cy="393" r="1.75" fill="#52bb63"/>
<circle cx="171.8" cy="409.3" r="1.75" fill="#1b5484"/>
<circle cx="188.8" cy="395.6" r="1.75" fill="#cc1843"/>
<circle cx="205.9" cy="400.8" r="1.75" fill="#52bb63"/>
<circle cx="171.8" cy="415.6" r="1.75" fill="#1b5484"/>
<circle cx="188.8" cy="401.5" r="1.75" fill="#cc1843"/>
<circle cx="205.9" cy="412.6" r="1.75" fill="#52bb63"/>
<circle cx="171.8" cy="420.6" r="1.75" fill="#1b5484"/>
<circle cx="188.8" cy="416.6" r="1.75" fill="#cc1843"/>
<circle cx="205.9" cy="420.1" r="1.75" fill="#52bb63"/>
<circle cx="171.8" cy="422" r="1.75" fill="#1b5484"/>
<circle cx="188.8" cy="418.9" r="1.75" fill="#cc1843"/>
<circle cx="205.9" cy="423.1" r="1.75" fill="#52bb63"/>
<line x1="171.8" y1="367.5" x2="186.4" y2="367.5" stroke="#262626" stroke-width="1.2"/>
<circle cx="177.15" cy="362.6" r="1.15" fill="#151515"/>
<circle cx="181.05" cy="362.6" r="1.15" fill="#151515"/>
<line x1="190.6" y1="367.5" x2="206.4" y2="367.5" stroke="#262626" stroke-width="1.2"/>
<circle cx="198.5" cy="362.6" r="1.15" fill="#151515"/>
<text x="290.2" y="350.4" font-size="11.4" text-anchor="start" fill="#111" stroke="#111" stroke-width="0" font-weight="bold">E</text>
<line x1="334.2" y1="356" x2="334.2" y2="444.8" stroke="#222" stroke-width="1.3"/>
<line x1="333.7" y1="444.3" x2="374.6" y2="444.3" stroke="#222" stroke-width="1.3"/>
<line x1="331.2" y1="359" x2="334.2" y2="359" stroke="#222" stroke-width="1"/>
<text x="328.3" y="361.4" font-size="6.8" text-anchor="end" fill="#222" stroke="#222" stroke-width="0.22" textLength="24.0" lengthAdjust="spacingAndGlyphs">0.0020</text>
<line x1="331.2" y1="380.4" x2="334.2" y2="380.4" stroke="#222" stroke-width="1"/>
<text x="328.3" y="382.79999999999995" font-size="6.8" text-anchor="end" fill="#222" stroke="#222" stroke-width="0.22" textLength="24.0" lengthAdjust="spacingAndGlyphs">0.0015</text>
<line x1="331.2" y1="401.8" x2="334.2" y2="401.8" stroke="#222" stroke-width="1"/>
<text x="328.3" y="404.2" font-size="6.8" text-anchor="end" fill="#222" stroke="#222" stroke-width="0.22" textLength="24.0" lengthAdjust="spacingAndGlyphs">0.0010</text>
<line x1="331.2" y1="423.1" x2="334.2" y2="423.1" stroke="#222" stroke-width="1"/>
<text x="328.3" y="425.5" font-size="6.8" text-anchor="end" fill="#222" stroke="#222" stroke-width="0.22" textLength="24.0" lengthAdjust="spacingAndGlyphs">0.0005</text>
<line x1="331.2" y1="444.3" x2="334.2" y2="444.3" stroke="#222" stroke-width="1"/>
<text x="328.3" y="446.7" font-size="6.8" text-anchor="end" fill="#222" stroke="#222" stroke-width="0.22" textLength="24.0" lengthAdjust="spacingAndGlyphs">0.0000</text>
<line x1="346.4" y1="444.3" x2="346.4" y2="447.3" stroke="#222" stroke-width="1"/>
<line x1="364.3" y1="444.3" x2="364.3" y2="447.3" stroke="#222" stroke-width="1"/>
<text x="348.2" y="454.7" font-size="8.6" text-anchor="end" fill="#222" stroke="#222" stroke-width="0.22" textLength="48.45" lengthAdjust="spacingAndGlyphs" transform="rotate(-45 348.2 454.7)">MDA-MB-468</text>
<text x="366.1" y="454.7" font-size="8.6" text-anchor="end" fill="#222" stroke="#222" stroke-width="0.22" textLength="43.89" lengthAdjust="spacingAndGlyphs" transform="rotate(-45 366.1 454.7)">with Platelets</text>
<text x="299.7" y="403.3" font-size="8.6" text-anchor="middle" fill="#222" stroke="#222" stroke-width="0.4" textLength="54.5" lengthAdjust="spacingAndGlyphs" transform="rotate(-90 299.7 403.3)">PDL1 mRNA (AU)</text>
<line x1="346.4" y1="417.7" x2="364.3" y2="394.2" stroke="#111" stroke-width="1.1"/>
<line x1="346.4" y1="425" x2="364.3" y2="382" stroke="#111" stroke-width="1.1"/>
<line x1="346.4" y1="426.7" x2="364.3" y2="412.1" stroke="#111" stroke-width="1.1"/>
<line x1="346.4" y1="428.5" x2="364.3" y2="416.6" stroke="#111" stroke-width="1.1"/>
<circle cx="346.4" cy="417.7" r="1.75" fill="#1b5484"/>
<circle cx="364.3" cy="394.2" r="1.75" fill="#cc1843"/>
<circle cx="346.4" cy="425" r="1.75" fill="#1b5484"/>
<circle cx="364.3" cy="382" r="1.75" fill="#cc1843"/>
<circle cx="346.4" cy="426.7" r="1.75" fill="#1b5484"/>
<circle cx="364.3" cy="412.1" r="1.75" fill="#cc1843"/>
<circle cx="346.4" cy="428.5" r="1.75" fill="#1b5484"/>
<circle cx="364.3" cy="416.6" r="1.75" fill="#cc1843"/>
<line x1="346.4" y1="371.5" x2="364.3" y2="371.5" stroke="#262626" stroke-width="1.2"/>
<circle cx="353.4" cy="366.6" r="1.15" fill="#151515"/>
<circle cx="357.3" cy="366.6" r="1.15" fill="#151515"/>
<line x1="428.7" y1="354.7" x2="428.7" y2="383.2" stroke="#222" stroke-width="1.3"/>
<line x1="428.7" y1="390.7" x2="428.7" y2="444.8" stroke="#222" stroke-width="1.3"/>
<line x1="426.7" y1="383.2" x2="430.7" y2="383.2" stroke="#222" stroke-width="1.2"/>
<line x1="426.7" y1="390.7" x2="430.7" y2="390.7" stroke="#222" stroke-width="1.2"/>
<line x1="428.2" y1="444.3" x2="470.8" y2="444.3" stroke="#222" stroke-width="1.3"/>
<line x1="425.7" y1="360" x2="428.7" y2="360" stroke="#222" stroke-width="1"/>
<text x="421.6" y="362.4" font-size="6.8" text-anchor="end" fill="#222" stroke="#222" stroke-width="0.22" textLength="19.71" lengthAdjust="spacingAndGlyphs">0.010</text>
<line x1="425.7" y1="366.4" x2="428.7" y2="366.4" stroke="#222" stroke-width="1"/>
<text x="421.6" y="368.79999999999995" font-size="6.8" text-anchor="end" fill="#222" stroke="#222" stroke-width="0.22" textLength="19.71" lengthAdjust="spacingAndGlyphs">0.008</text>
<line x1="425.7" y1="372.9" x2="428.7" y2="372.9" stroke="#222" stroke-width="1"/>
<text x="421.6" y="375.29999999999995" font-size="6.8" text-anchor="end" fill="#222" stroke="#222" stroke-width="0.22" textLength="19.71" lengthAdjust="spacingAndGlyphs">0.006</text>
<line x1="425.7" y1="379.3" x2="428.7" y2="379.3" stroke="#222" stroke-width="1"/>
<text x="421.6" y="381.7" font-size="6.8" text-anchor="end" fill="#222" stroke="#222" stroke-width="0.22" textLength="19.71" lengthAdjust="spacingAndGlyphs">0.004</text>
<line x1="425.7" y1="401.4" x2="428.7" y2="401.4" stroke="#222" stroke-width="1"/>
<text x="421.6" y="403.79999999999995" font-size="6.8" text-anchor="end" fill="#222" stroke="#222" stroke-width="0.22" textLength="19.71" lengthAdjust="spacingAndGlyphs">0.002</text>
<line x1="425.7" y1="422.6" x2="428.7" y2="422.6" stroke="#222" stroke-width="1"/>
<text x="421.6" y="425.0" font-size="6.8" text-anchor="end" fill="#222" stroke="#222" stroke-width="0.22" textLength="19.71" lengthAdjust="spacingAndGlyphs">0.001</text>
<line x1="425.7" y1="444.3" x2="428.7" y2="444.3" stroke="#222" stroke-width="1"/>
<text x="421.6" y="446.7" font-size="6.8" text-anchor="end" fill="#222" stroke="#222" stroke-width="0.22" textLength="19.71" lengthAdjust="spacingAndGlyphs">0.000</text>
<line x1="440.1" y1="444.3" x2="440.1" y2="447.3" stroke="#222" stroke-width="1"/>
<line x1="458.3" y1="444.3" x2="458.3" y2="447.3" stroke="#222" stroke-width="1"/>
<text x="441.90000000000003" y="454.7" font-size="8.6" text-anchor="end" fill="#222" stroke="#222" stroke-width="0.22" textLength="18.68" lengthAdjust="spacingAndGlyphs" transform="rotate(-45 441.90000000000003 454.7)">A549</text>
<text x="460.1" y="454.7" font-size="8.6" text-anchor="end" fill="#222" stroke="#222" stroke-width="0.22" textLength="43.89" lengthAdjust="spacingAndGlyphs" transform="rotate(-45 460.1 454.7)">with Platelets</text>
<text x="396.7" y="403.3" font-size="8.6" text-anchor="middle" fill="#222" stroke="#222" stroke-width="0.4" textLength="54.5" lengthAdjust="spacingAndGlyphs" transform="rotate(-90 396.7 403.3)">PDL1 mRNA (AU)</text>
<line x1="440.1" y1="381.5" x2="458.3" y2="366.4" stroke="#111" stroke-width="1.1"/>
<line x1="440.1" y1="405.5" x2="458.3" y2="399.7" stroke="#111" stroke-width="1.1"/>
<line x1="440.1" y1="405.5" x2="458.3" y2="403.6" stroke="#111" stroke-width="1.1"/>
<line x1="440.1" y1="429.3" x2="458.3" y2="419.6" stroke="#111" stroke-width="1.1"/>
<line x1="440.1" y1="432.9" x2="458.3" y2="430.4" stroke="#111" stroke-width="1.1"/>
<line x1="440.1" y1="432.9" x2="458.3" y2="432.5" stroke="#111" stroke-width="1.1"/>
<line x1="440.1" y1="441.1" x2="458.3" y2="432.5" stroke="#111" stroke-width="1.1"/>
<line x1="440.1" y1="441.1" x2="458.3" y2="441.1" stroke="#111" stroke-width="1.1"/>
<circle cx="440.1" cy="381.5" r="1.75" fill="#1b5484"/>
<circle cx="458.3" cy="366.4" r="1.75" fill="#cc1843"/>
<circle cx="440.1" cy="405.5" r="1.75" fill="#1b5484"/>
<circle cx="458.3" cy="399.7" r="1.75" fill="#cc1843"/>
<circle cx="440.1" cy="405.5" r="1.75" fill="#1b5484"/>
<circle cx="458.3" cy="403.6" r="1.75" fill="#cc1843"/>
<circle cx="440.1" cy="429.3" r="1.75" fill="#1b5484"/>
<circle cx="458.3" cy="419.6" r="1.75" fill="#cc1843"/>
<circle cx="440.1" cy="432.9" r="1.75" fill="#1b5484"/>
<circle cx="458.3" cy="430.4" r="1.75" fill="#cc1843"/>
<circle cx="440.1" cy="432.9" r="1.75" fill="#1b5484"/>
<circle cx="458.3" cy="432.5" r="1.75" fill="#cc1843"/>
<circle cx="440.1" cy="441.1" r="1.75" fill="#1b5484"/>
<circle cx="458.3" cy="432.5" r="1.75" fill="#cc1843"/>
<circle cx="440.1" cy="441.1" r="1.75" fill="#1b5484"/>
<circle cx="458.3" cy="441.1" r="1.75" fill="#cc1843"/>
<line x1="440.8" y1="356.5" x2="458.3" y2="356.5" stroke="#262626" stroke-width="1.2"/>
<circle cx="449.55" cy="351.6" r="1.15" fill="#151515"/>
</svg></body></html>
